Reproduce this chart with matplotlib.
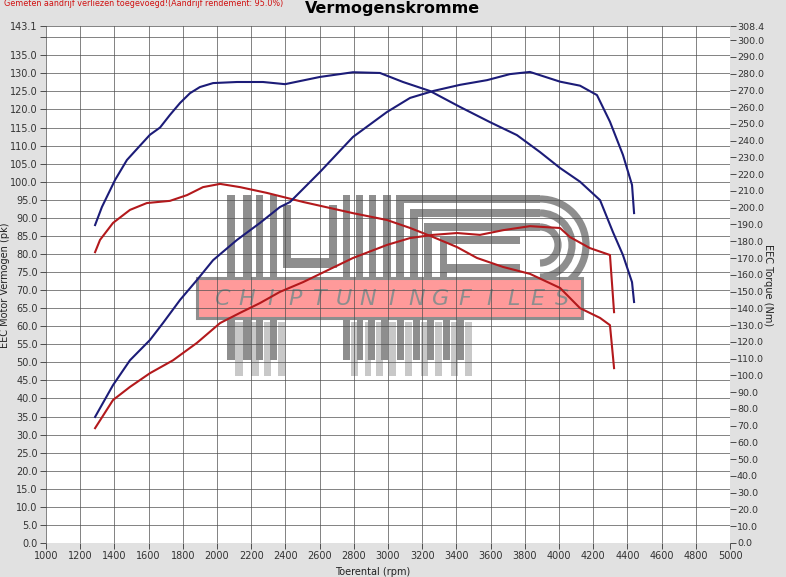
import numpy as np
import matplotlib
matplotlib.use("Agg")
import matplotlib.pyplot as plt
from matplotlib.patches import Rectangle, Arc
from matplotlib.transforms import Affine2D

# --- data ---
rpm_pwr_blue = [1287, 1327, 1404, 1473, 1550, 1608, 1667, 1725, 1784, 1842, 1900, 1977,
                2117, 2269, 2398, 2602, 2795, 2953, 3088, 3246, 3421, 3596, 3754, 3889,
                4006, 4123, 4240, 4316, 4374, 4427, 4439]
pwr_blue = [88.0, 93.0, 100.5, 106.0, 110.0, 113.0, 115.0, 118.5, 121.8, 124.5, 126.2, 127.3,
            127.6, 127.6, 127.0, 129.0, 130.3, 130.1, 127.6, 125.1, 120.7, 116.5, 112.9, 108.2,
            103.8, 100.0, 94.9, 86.0, 79.7, 72.2, 66.7]

rpm_trq_blue = [1287, 1392, 1491, 1608, 1684, 1784, 1883, 1977, 2117, 2251, 2368, 2427,
                2602, 2795, 2994, 3129, 3263, 3421, 3579, 3713, 3830, 4006, 4123, 4222,
                4298, 4374, 4427, 4439]
trq_blue = [75.2, 94.2, 109.0, 121.1, 131.2, 145.0, 156.9, 168.7, 180.8, 190.9, 200.4, 203.4,
            221.3, 242.2, 257.1, 265.5, 269.6, 273.3, 276.1, 279.7, 281.0, 275.2, 272.8, 267.2,
            251.3, 231.5, 213.6, 196.8]

rpm_pwr_red = [1287, 1316, 1392, 1491, 1590, 1725, 1825, 1918, 2018, 2135, 2292, 2503,
               2795, 2994, 3129, 3263, 3404, 3520, 3673, 3830, 4006, 4123, 4240, 4298, 4322]
pwr_red = [80.5, 83.9, 88.6, 92.2, 94.1, 94.7, 96.3, 98.5, 99.4, 98.5, 96.9, 94.4,
           91.3, 89.4, 87.2, 84.7, 81.9, 78.9, 76.4, 74.5, 70.6, 65.0, 62.3, 60.3, 48.4]

rpm_trq_red = [1287, 1392, 1491, 1608, 1743, 1883, 2018, 2135, 2251, 2368, 2503, 2795,
               2994, 3129, 3263, 3404, 3538, 3673, 3830, 4006, 4064, 4181, 4298, 4322]
trq_red = [68.5, 85.3, 93.1, 101.3, 109.0, 119.4, 131.2, 137.3, 143.1, 149.8, 155.6, 170.0,
           177.8, 181.9, 183.8, 184.9, 183.8, 186.6, 189.0, 187.9, 182.5, 175.9, 171.8, 137.7]

pk_max = 143.1
nm_max = 308.4

bg = "#e1e1e1"
blue = "#1c1c78"
red = "#b3191c"
tick_col = "#333333"

W, H = 786, 577
fig = plt.figure(figsize=(W / 100, H / 100), dpi=100, facecolor=bg)
ax = fig.add_axes([46 / W, 1 - 543 / H, 684 / W, 517 / H])
ax.set_facecolor("white")

ax.set_xlim(1000, 5000)
ax.set_ylim(0, pk_max)
ax.set_xticks(np.arange(1000, 5001, 200))
ax.set_xticklabels([str(v) for v in range(1000, 5001, 200)])
yt = list(np.arange(0, 141, 5)) + [pk_max]
ax.set_yticks(yt)
ax.set_yticklabels(["" if v == 140 else f"{v:.1f}" for v in yt])
ax.grid(True, color="#505050", linewidth=0.5)
ax.tick_params(labelsize=7.0, colors=tick_col, length=4, width=0.6, pad=2)
for s in ax.spines.values():
    s.set_visible(False)

ax.set_xlabel("Toerental (rpm)", fontsize=7.0, color="#222222")
ax.xaxis.set_label_coords((373 - 46) / 684, -(567 - 543) / 517)
ax.set_ylabel("EEC Motor Vermogen (pk)", fontsize=7.0, color="#222222")
ax.yaxis.set_label_coords(-(46 - 10) / 684, (543 - 285) / 517)

ax2 = ax.twinx()
ax2.set_ylim(0, nm_max)
rt = list(np.arange(0, 301, 10)) + [nm_max]
ax2.set_yticks(rt)
ax2.set_yticklabels([f"{v:.1f}" for v in rt])
ax2.tick_params(labelsize=6.8, colors=tick_col, length=4, width=0.6, pad=1)
for s in ax2.spines.values():
    s.set_visible(False)
ax2.set_ylabel("EEC Torque (Nm)", fontsize=7.0, color="#222222", rotation=270)
ax2.yaxis.set_label_coords((773 - 46) / 684, (543 - 285) / 517)

# --- watermark (image pixel coordinates) ---
pix = Affine2D().scale(1, -1).translate(0, H)
grey = "#8e8e8e"
shadow = "#c8c8c8"


def bar(x0, y0, x1, y1, col=grey, z=0.8):
    ax.add_patch(Rectangle((x0, y1), x1 - x0, y0 - y1, transform=pix,
                           facecolor=col, edgecolor="none", zorder=z))


lower = [(227, 235), (243, 251), (256, 263), (270, 277),
         (343, 350), (357, 363), (368, 375), (381, 388), (397, 404),
         (413, 420), (427, 434), (443, 450), (457, 464)]
for x0, x1 in lower:
    bar(x0 + 8, 322, x1 + 8, 376, shadow, 0.7)
    bar(x0, 318, x1, 360)

for x0, x1 in [(227, 235), (243, 251), (256, 263), (270, 277),
               (343, 350), (356, 363), (369, 376), (383, 391), (396, 404)]:
    bar(x0, 195, x1, 278)
bar(283, 205, 291, 268)
bar(329, 205, 337, 268)
bar(283, 258, 337, 268)
bar(396, 195, 540, 203)
bar(410, 209, 540, 217)
bar(424, 223, 540, 231)
bar(410, 209, 418, 278)
bar(424, 223, 432, 278)
bar(440, 237, 520, 244)
bar(440, 237, 447, 278)
bar(440, 264, 520, 272)
for r in (46, 32, 18):
    ax.add_patch(Arc((540, 245), 2 * r, 2 * r, theta1=-90, theta2=90, transform=pix,
                     color=grey, linewidth=5.2, zorder=0.8))

ax.add_patch(Rectangle((197, 318), 385, -40, transform=pix, facecolor="#ff9a9a",
                       edgecolor=grey, linewidth=2.2, zorder=0.85))
for i, ch in enumerate("CHIPTUNINGFILES"):
    ax.text(222 + i * 24.3, 299, ch, transform=pix, ha="center", va="center",
            fontsize=16, style="italic", color=grey, zorder=0.9)

# --- curves ---
ax.plot(rpm_pwr_blue, pwr_blue, color=blue, linewidth=1.5, zorder=3)
ax.plot(rpm_pwr_red, pwr_red, color=red, linewidth=1.5, zorder=3)
ax2.plot(rpm_trq_blue, trq_blue, color=blue, linewidth=1.5, zorder=3)
ax2.plot(rpm_trq_red, trq_red, color=red, linewidth=1.5, zorder=3)

fig.text(392 / W, 1 - 8 / H, "Vermogenskromme", ha="center", va="center",
         fontsize=11.5, fontweight="bold", color="black")
fig.text(4 / W, 1 - 4 / H, "Gemeten aandrijf verliezen toegevoegd!(Aandrijf rendement: 95.0%)",
         ha="left", va="center", fontsize=5.8, color="#d01010")

fig.savefig("out.png", dpi=100, facecolor=bg)
